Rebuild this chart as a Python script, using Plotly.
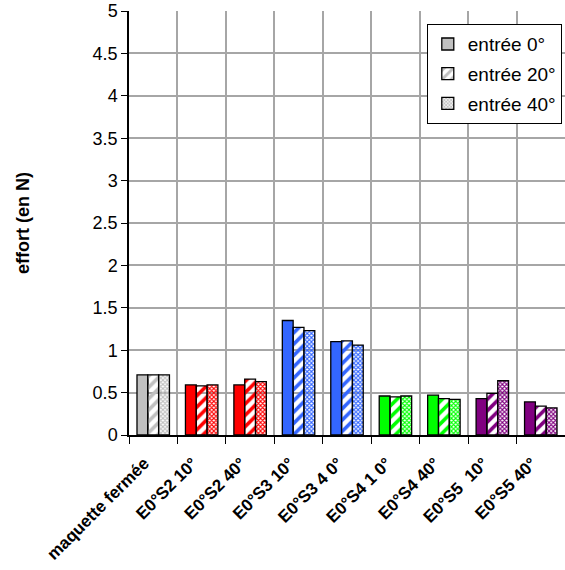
import plotly.graph_objects as go

categories = ["maquette fermée", "E0°S2 10°", "E0°S2 40°", "E0°S3 10°", "E0°S3 4 0°",
              "E0°S4 1 0°", "E0°S4 40°", "E0°S5  10°", "E0°S5 40°"]
entree_0 = [0.71, 0.59, 0.59, 1.35, 1.10, 0.46, 0.47, 0.43, 0.39]
entree_20 = [0.71, 0.58, 0.66, 1.27, 1.11, 0.45, 0.43, 0.49, 0.34]
entree_40 = [0.71, 0.59, 0.63, 1.23, 1.06, 0.46, 0.42, 0.64, 0.32]
colors = ["#C0C0C0", "#FF0000", "#FF0000", "#3366FF", "#3366FF",
          "#00FF00", "#00FF00", "#800080", "#800080"]

fig = go.Figure()
fig.add_trace(go.Bar(x=categories, y=entree_0, name="entrée 0°", legendgroup="a",
                     marker=dict(color=colors, line=dict(color="black", width=1.3))))
fig.add_trace(go.Bar(x=categories, y=entree_20, name="entrée 20°", legendgroup="b",
                     marker=dict(color=colors, line=dict(color="black", width=1.3),
                                 pattern=dict(shape="/", fgcolor=colors, bgcolor="white",
                                              size=8, solidity=0.45, fillmode="replace"))))
fig.add_trace(go.Bar(x=categories, y=entree_40, name="entrée 40°", legendgroup="c",
                     marker=dict(color=colors, line=dict(color="black", width=1.3),
                                 pattern=dict(shape="x", fgcolor=colors, bgcolor="white",
                                              size=3, solidity=0.6, fillmode="replace"))))

fig.update_layout(
    width=565, height=570,
    margin=dict(l=129, r=0, t=11, b=135, autoexpand=False),
    barmode="group", bargap=0.33, bargroupgap=0,
    plot_bgcolor="white", paper_bgcolor="white",
    font=dict(family="Liberation Sans, Arial", size=17, color="black"),
    legend=dict(x=0.683, y=0.969, xanchor="left", yanchor="top",
                bgcolor="white", bordercolor="black", borderwidth=1,
                font=dict(size=19), tracegroupgap=2, itemwidth=30),
)
fig.update_xaxes(
    tickson="boundaries", ticks="outside", ticklen=7, tickcolor="black",
    showline=True, linecolor="black", linewidth=1.5,
    showgrid=True, gridcolor="#A6A6A6", gridwidth=1.5, automargin=False,
    tickangle=-45, tickfont=dict(size=17, family="Liberation Sans, Arial"),
    ticklabelstandoff=10, ticklabelshift=-9,
    ticktext=["<b>" + c + "</b>" for c in categories], tickvals=categories,
)
fig.update_yaxes(
    range=[0, 5], dtick=0.5, ticks="outside", ticklen=6, tickcolor="black",
    showline=True, linecolor="black", linewidth=1.5, automargin=False,
    showgrid=True, gridcolor="#A6A6A6", gridwidth=1.5, zeroline=False,
    tickfont=dict(size=18, family="Liberation Sans, Arial"),
    title=dict(text="<b>effort (en N)</b>", font=dict(size=18), standoff=58),
)

# drop the default 8px body margin of the page so the figure sits at (0, 0)
fig.write_html("out.html", config={"displayModeBar": False},
               post_script="document.body.style.margin='0';")
